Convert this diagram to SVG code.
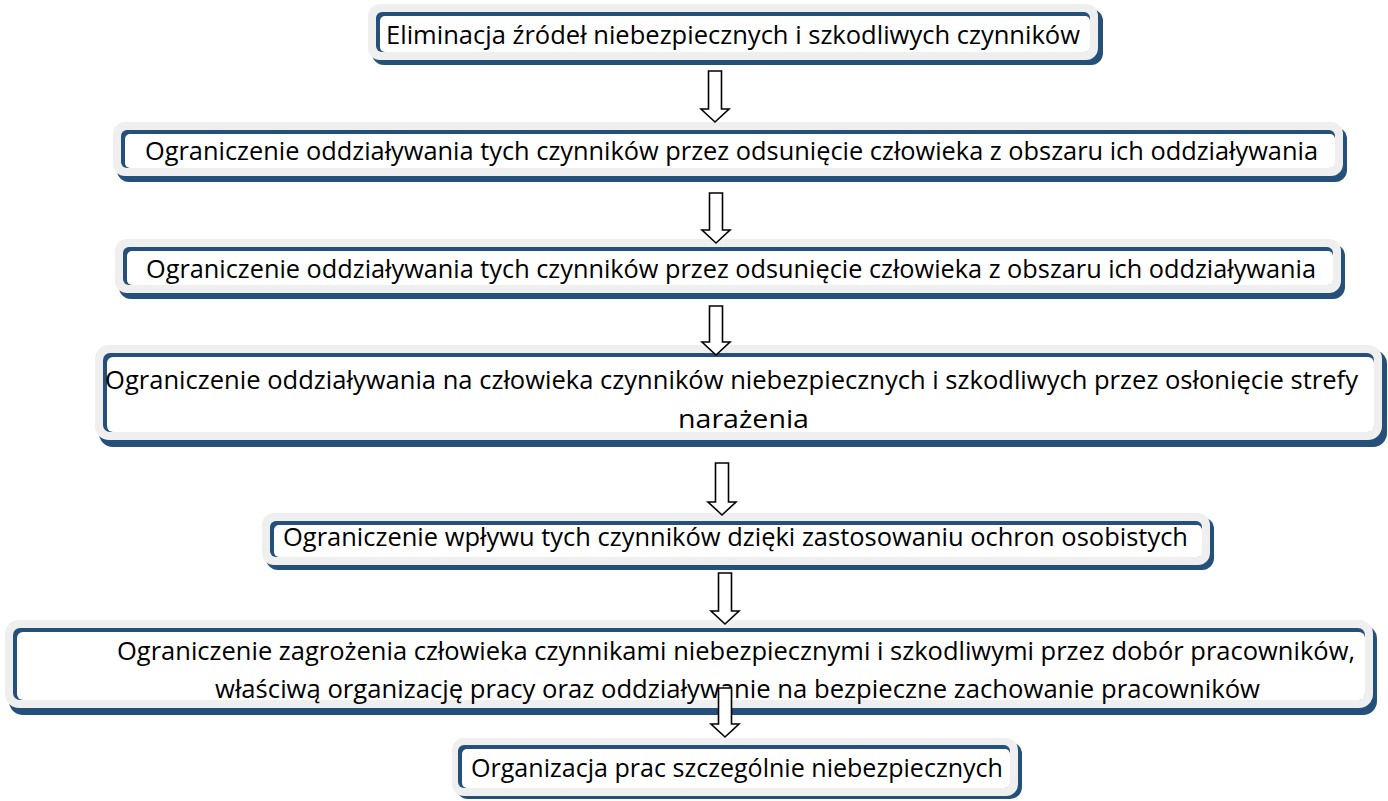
<svg xmlns="http://www.w3.org/2000/svg" width="1388" height="801" viewBox="0 0 1388 801">
<defs>
<style>
.sh{fill:#24507a}
.fr{fill:#efefef}
.ib{fill:#24507a}
.iw{fill:#ffffff}
.t{font-family:"Open Sans","Liberation Sans",sans-serif;font-size:26px;fill:#000}
.ar{fill:#fff;stroke:#000;stroke-width:1.6}
</style>
</defs>
<rect width="1388" height="801" fill="#fff"/>
<g id="n1">
<rect class="sh" x="372" y="9" width="731" height="56" rx="12"/>
<rect class="fr" x="368" y="4" width="730" height="56" rx="12"/>
<rect class="ib" x="376" y="12" width="714" height="40" rx="6"/>
<rect class="iw" x="380" y="16" width="710" height="36" rx="5"/>
<text class="t" x="386" y="44" textLength="694" lengthAdjust="spacingAndGlyphs">Eliminacja źródeł niebezpiecznych i szkodliwych czynników</text>
</g>
<g id="n2">
<rect class="sh" x="117" y="127" width="1230" height="55" rx="12"/>
<rect class="fr" x="113" y="122" width="1230" height="54" rx="12"/>
<rect class="ib" x="121" y="130" width="1214" height="38" rx="6"/>
<rect class="iw" x="125" y="134" width="1210" height="34" rx="5"/>
<text class="t" x="145" y="160" textLength="1173" lengthAdjust="spacingAndGlyphs">Ograniczenie oddziaływania tych czynników przez odsunięcie człowieka z obszaru ich oddziaływania</text>
</g>
<g id="n3">
<rect class="sh" x="119" y="244" width="1226" height="55" rx="12"/>
<rect class="fr" x="115" y="239" width="1226" height="54" rx="12"/>
<rect class="ib" x="123" y="247" width="1210" height="38" rx="6"/>
<rect class="iw" x="127" y="251" width="1206" height="34" rx="5"/>
<text class="t" x="146" y="278" textLength="1170" lengthAdjust="spacingAndGlyphs">Ograniczenie oddziaływania tych czynników przez odsunięcie człowieka z obszaru ich oddziaływania</text>
</g>
<g id="n4">
<rect class="sh" x="99" y="350" width="1288" height="97" rx="14"/>
<rect class="fr" x="95" y="345" width="1287" height="95" rx="14"/>
<rect class="ib" x="103" y="353" width="1271" height="79" rx="7"/>
<rect class="iw" x="107" y="357" width="1267" height="75" rx="6"/>
<text class="t" x="105" y="389" textLength="1253" lengthAdjust="spacingAndGlyphs">Ograniczenie oddziaływania na człowieka czynników niebezpiecznych i szkodliwych przez osłonięcie strefy</text>
<text class="t" x="678" y="428" textLength="131" lengthAdjust="spacingAndGlyphs">narażenia</text>
</g>
<g id="n5">
<rect class="sh" x="266" y="517" width="948" height="53" rx="12"/>
<rect class="fr" x="262" y="513" width="948" height="52" rx="12"/>
<rect class="ib" x="270" y="521" width="932" height="36" rx="6"/>
<rect class="iw" x="274" y="525" width="928" height="32" rx="5"/>
<text class="t" x="283" y="546" textLength="905" lengthAdjust="spacingAndGlyphs">Ograniczenie wpływu tych czynników dzięki zastosowaniu ochron osobistych</text>
</g>
<g id="n6">
<rect class="sh" x="9" y="625" width="1368" height="90" rx="14"/>
<rect class="fr" x="5" y="620" width="1368" height="88" rx="14"/>
<rect class="ib" x="13" y="628" width="1352" height="72" rx="7"/>
<rect class="iw" x="17" y="632" width="1348" height="68" rx="6"/>
<text class="t" x="117" y="660" textLength="1238" lengthAdjust="spacingAndGlyphs">Ograniczenie zagrożenia człowieka czynnikami niebezpiecznymi i szkodliwymi przez dobór pracowników,</text>
<text class="t" x="215" y="698" textLength="1045" lengthAdjust="spacingAndGlyphs">właściwą organizację pracy oraz oddziaływanie na bezpieczne zachowanie pracowników</text>
</g>
<g id="n7">
<rect class="sh" x="456" y="742" width="566" height="57" rx="12"/>
<rect class="fr" x="452" y="738" width="566" height="58" rx="12"/>
<rect class="ib" x="458" y="745" width="552" height="43" rx="6"/>
<rect class="iw" x="462" y="749" width="548" height="39" rx="5"/>
<text class="t" x="471" y="777" textLength="532" lengthAdjust="spacingAndGlyphs">Organizacja prac szczególnie niebezpiecznych</text>
</g>
<g id="connectors">
<polygon class="ar" points="708.5,71 721.5,71 721.5,109 729,109 715,122 701,109 708.5,109"/>
<polygon class="ar" points="709.5,193 722.5,193 722.5,230 730,230 716,243 702,230 709.5,230"/>
<polygon class="ar" points="709.5,306 722.5,306 722.5,342 730,342 716,355 702,342 709.5,342"/>
<polygon class="ar" points="715.5,463 728.5,463 728.5,502 736,502 722,515 708,502 715.5,502"/>
<polygon class="ar" points="718.5,573 731.5,573 731.5,611 739,611 725,624 711,611 718.5,611"/>
<polygon class="ar" points="718.5,688 731.5,688 731.5,724 739,724 725,737 711,724 718.5,724"/>
</g>
</svg>
